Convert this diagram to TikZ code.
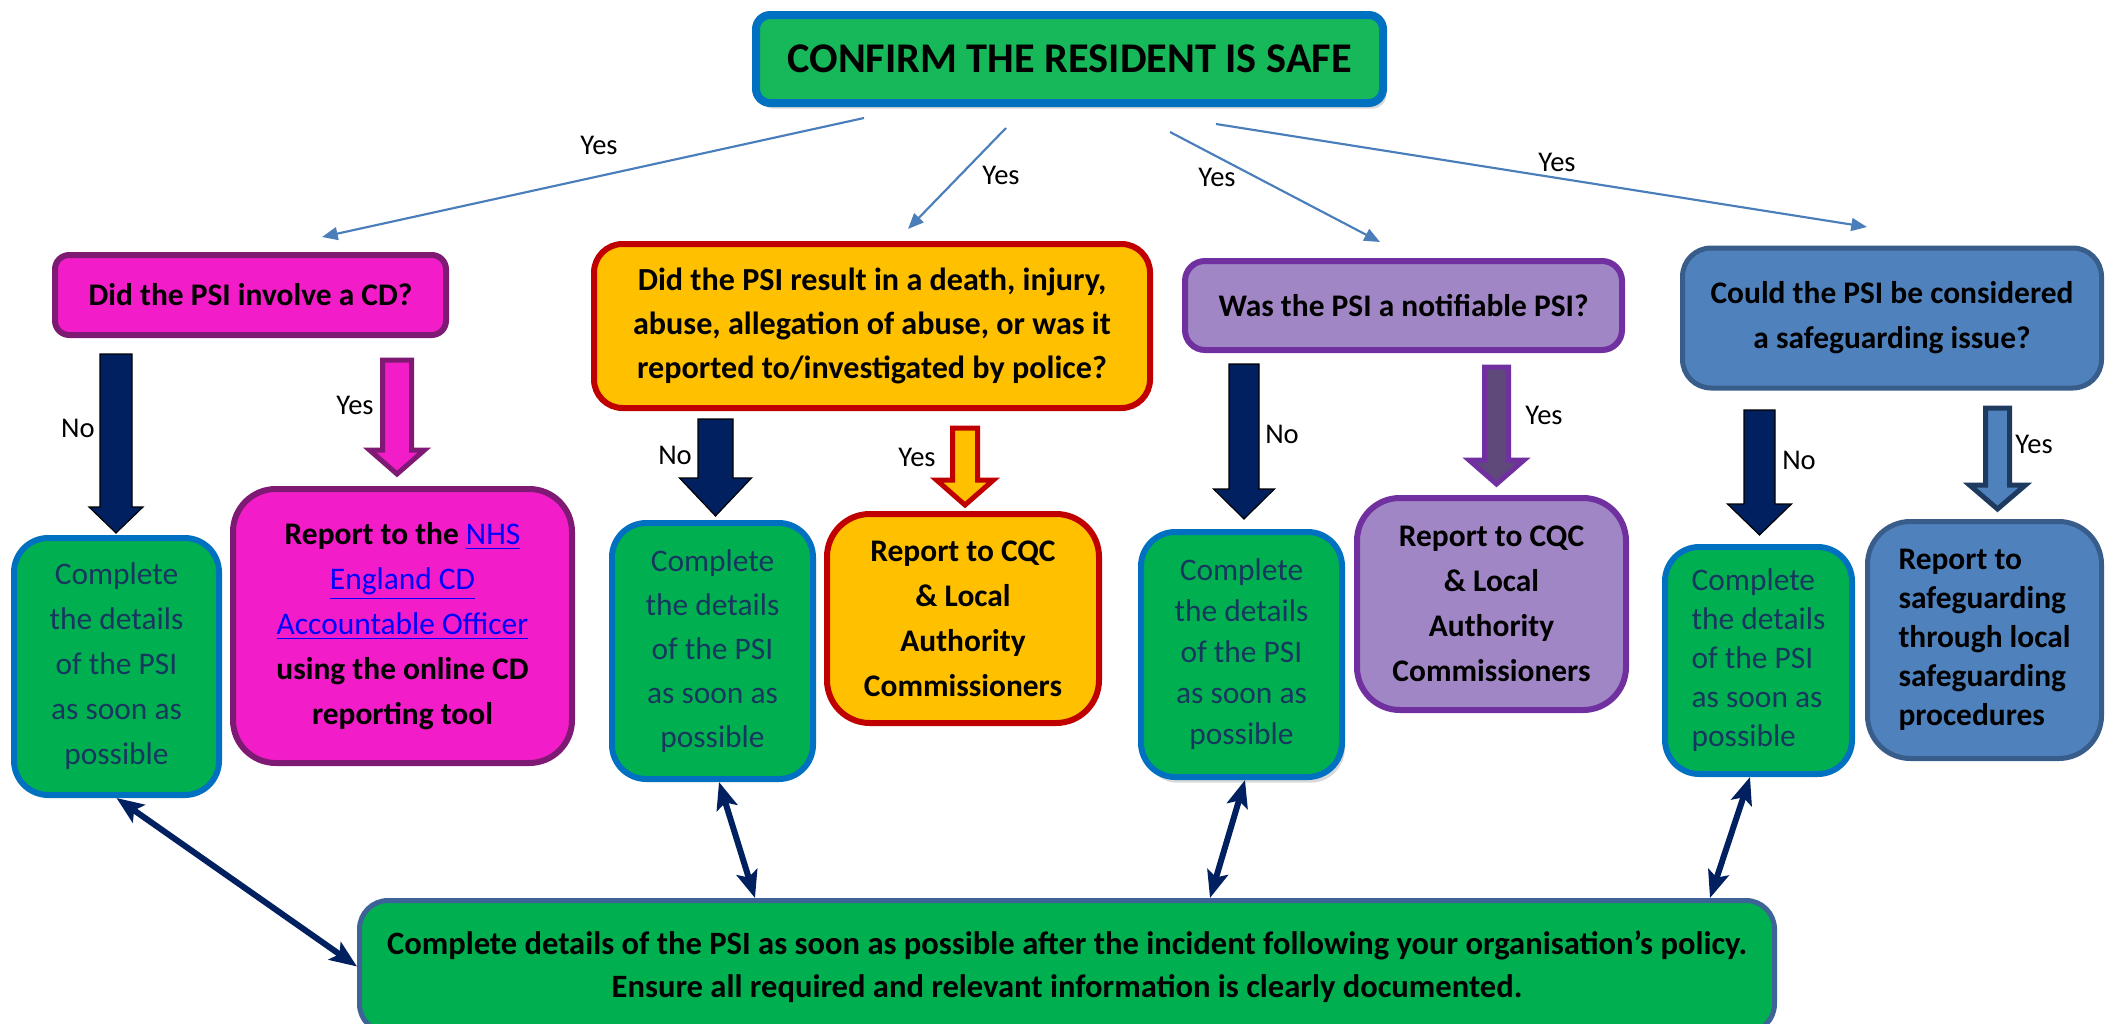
\documentclass[tikz,border=0pt]{standalone}
\usepackage{fontspec}
\setmainfont{Carlito}
\usetikzlibrary{arrows.meta,shadows}
\def\pxu{0.35pt}
\definecolor{topgreen}{HTML}{17B85A}
\definecolor{boxgreen}{HTML}{00B050}
\definecolor{boxblue}{HTML}{0070C0}
\definecolor{gtext}{HTML}{17375E}
\definecolor{magfill}{HTML}{F21DC8}
\definecolor{magborder}{HTML}{7F1A74}
\definecolor{orfill}{HTML}{FFC000}
\definecolor{orborder}{HTML}{C00000}
\definecolor{purfill}{HTML}{A086C5}
\definecolor{purborder}{HTML}{7030A0}
\definecolor{purdark}{HTML}{5F497A}
\definecolor{blfill}{HTML}{4F81BD}
\definecolor{blborder}{HTML}{385D8A}
\definecolor{bldark}{HTML}{1F3A5F}
\definecolor{navy}{HTML}{002060}
\definecolor{thinblue}{HTML}{4A7EBB}
\definecolor{botborder}{HTML}{3E6396}
\definecolor{linkblue}{HTML}{0000FF}
\newcommand{\lnk}[1]{\textcolor{linkblue}{\mdseries\underline{#1}}}
\newcommand{\blockarr}[7][]{%
  \draw[#1] ({#2-#3},#5) -- ({#2+#3},#5) -- ({#2+#3},#6) -- ({#2+#4},#6) -- (#2,#7) -- ({#2-#4},#6) -- ({#2-#3},#6) -- cycle;}
\begin{document}
\begin{tikzpicture}[x=0.35pt,y=-0.35pt,
  sz/.style 2 args={minimum width=#1*\pxu, minimum height=#2*\pxu},
  anybox/.style={draw, inner sep=0pt, align=center, line width=2.1pt},
  topbox/.style={anybox, fill=topgreen, draw=boxblue, line width=2.8pt, rounded corners=5pt,
     font=\fontsize{14.8}{18}\selectfont\bfseries,
     drop shadow={shadow xshift=1.2pt, shadow yshift=-2pt, opacity=0.3}},
  qbox/.style={anybox, font=\fontsize{11}{15.4}\selectfont\bfseries},
  gbox/.style={anybox, fill=boxgreen, draw=boxblue, rounded corners=12pt, text=gtext},
  rbox/.style={anybox, rounded corners=15pt, font=\fontsize{11}{15.75}\selectfont\bfseries},
  bbox/.style={anybox, fill=boxgreen, draw=botborder, line width=1.75pt, rounded corners=10pt,
     font=\fontsize{11.4}{15.05}\selectfont\bfseries},
  lbl/.style={inner sep=0pt, font=\fontsize{10}{12}\selectfont},
  thinarr/.style={draw=thinblue, line width=0.75pt, -{Triangle[length=5.5pt,width=4.5pt]}},
  biarr/.style={draw=navy, line width=2.1pt, {Stealth[length=9.5pt,width=7.5pt,inset=2pt]}-{Stealth[length=9.5pt,width=7.5pt,inset=2pt]}},
  solidarr/.style={fill=navy},
  outarr/.style={line width=1.75pt, line join=miter}
]
\useasboundingbox (0,0) rectangle (2107,1023);
\clip (0,0) rectangle (2107,1023);

% top box
\node[topbox, sz={627}{88}] (top) at (1069.5,59) {CONFIRM THE RESIDENT IS SAFE};

% question boxes
\node[qbox, fill=magfill, draw=magborder, rounded corners=5pt, sz={391}{80}] (q1) at (250.5,295) {Did the PSI involve a CD?};
\node[qbox, fill=orfill, draw=orborder, rounded corners=10pt, sz={556}{164},
  font=\fontsize{11.25}{15.4}\selectfont\bfseries] (q2) at (872,326)
  {Did the PSI result in a death, injury,\\ abuse, allegation of abuse, or was it\\ reported to/investigated by police?};
\node[qbox, fill=purfill, draw=purborder, rounded corners=7pt, sz={437}{89}] (q3) at (1403.5,305.5) {Was the PSI a notifiable PSI?};
\node[qbox, fill=blfill, draw=blborder, line width=1.75pt, rounded corners=10pt, sz={419}{140},
  font=\fontsize{11}{15.75}\selectfont\bfseries] (q4) at (1892,318) {Could the PSI be considered\\ a safeguarding issue?};

% green boxes
\node[gbox, sz={205}{257}, font=\fontsize{11}{15.75}\selectfont] (g1) at (116.5,666.5)
  {Complete\\ the details\\ of the PSI\\ as soon as\\ possible};
\node[gbox, sz={201}{256}, font=\fontsize{11}{15.4}\selectfont] (g2) at (712.5,651)
  {Complete\\ the details\\ of the PSI\\ as soon as\\ possible};
\node[gbox, sz={201}{245}, font=\fontsize{11}{14.35}\selectfont,
  drop shadow={shadow xshift=1pt, shadow yshift=-2pt, opacity=0.3}] (g3) at (1241.5,654.5)
  {Complete\\ the details\\ of the PSI\\ as soon as\\ possible};
\node[gbox, sz={187}{227}, align=left, font=\fontsize{11}{13.65}\selectfont] (g4) at (1758.5,660.5)
  {Complete\\ the details\\ of the PSI\\ as soon as\\ possible};

% report boxes
\node[rbox, fill=magfill, draw=magborder, sz={339}{274}] (r1) at (402.5,626)
  {Report to the \lnk{NHS}\\ \lnk{England CD}\\ \lnk{Accountable Officer}\\ using the online CD\\ reporting tool};
\node[rbox, fill=orfill, draw=orborder, sz={272}{209}] (r2) at (963,618.5)
  {Report to CQC\\ \& Local\\ Authority\\ Commissioners};
\node[rbox, fill=purfill, draw=purborder, sz={269}{212}] (r3) at (1491.5,604)
  {Report to CQC\\ \& Local\\ Authority\\ Commissioners};
\node[rbox, fill=blfill, draw=blborder, line width=1.75pt, sz={234}{237}, align=left,
  font=\fontsize{11}{13.65}\selectfont\bfseries] (r4) at (1984.5,640)
  {Report to\\ safeguarding\\ through local\\ safeguarding\\ procedures};

% bottom box
\node[bbox, sz={1415}{132}] (bot) at (1067,966.5)
  {Complete details of the PSI as soon as possible after the incident following your organisation’s policy.\\
   Ensure all required and relevant information is clearly documented.};

% thin arrows from the top box
\coordinate (s1) at (864,118);  \coordinate (e1) at (322,237);
\coordinate (s2) at (1006,128); \coordinate (e2) at (908,229);
\coordinate (s3) at (1170,132); \coordinate (e3) at (1380,242);
\coordinate (s4) at (1216,124); \coordinate (e4) at (1867,227);
\draw[thinarr] (s1) -- (e1);
\draw[thinarr] (s2) -- (e2);
\draw[thinarr] (s3) -- (e3);
\draw[thinarr] (s4) -- (e4);
\node[lbl] (y1) at (599,145) {Yes};
\node[lbl] (y2) at (1001,175) {Yes};
\node[lbl] (y3) at (1217,177) {Yes};
\node[lbl] (y4) at (1557,162) {Yes};

% block arrows
\blockarr[solidarr]{116}{16}{27}{354}{507}{533}
\blockarr[outarr, fill=magfill, draw=magborder]{397}{14.5}{27.5}{360}{450}{474}
\blockarr[solidarr]{715.5}{17.5}{36}{419}{478}{516}
\blockarr[outarr, fill=orfill, draw=orborder]{965}{12.5}{28.5}{428}{480}{505}
\blockarr[solidarr]{1244}{15}{30.5}{364}{489}{519}
\blockarr[outarr, fill=purdark, draw=purborder]{1496.5}{12}{27.5}{367}{460}{484}
\blockarr[solidarr]{1759.5}{15.5}{32}{410}{504}{535}
\blockarr[outarr, fill=blfill, draw=bldark]{1997.5}{12}{28}{408}{485}{509}

\node[lbl] (n1) at (78,428) {No};
\node[lbl] (ya1) at (355,405) {Yes};
\node[lbl] (n2) at (675,455) {No};
\node[lbl] (ya2) at (917,457) {Yes};
\node[lbl] (n3) at (1282,434) {No};
\node[lbl] (ya3) at (1544,415) {Yes};
\node[lbl] (n4) at (1799,460) {No};
\node[lbl] (ya4) at (2034,444) {Yes};

% two-way connectors to the bottom box
\draw[biarr] (g1.south) -- (bot.west);
\draw[biarr] (719,0 |- g2.south) -- (755,0 |- bot.north);
\draw[biarr] (1245,0 |- g3.south) -- (1210,0 |- bot.north);
\draw[biarr] (1750,0 |- g4.south) -- (1710,0 |- bot.north);
\end{tikzpicture}
\end{document}
